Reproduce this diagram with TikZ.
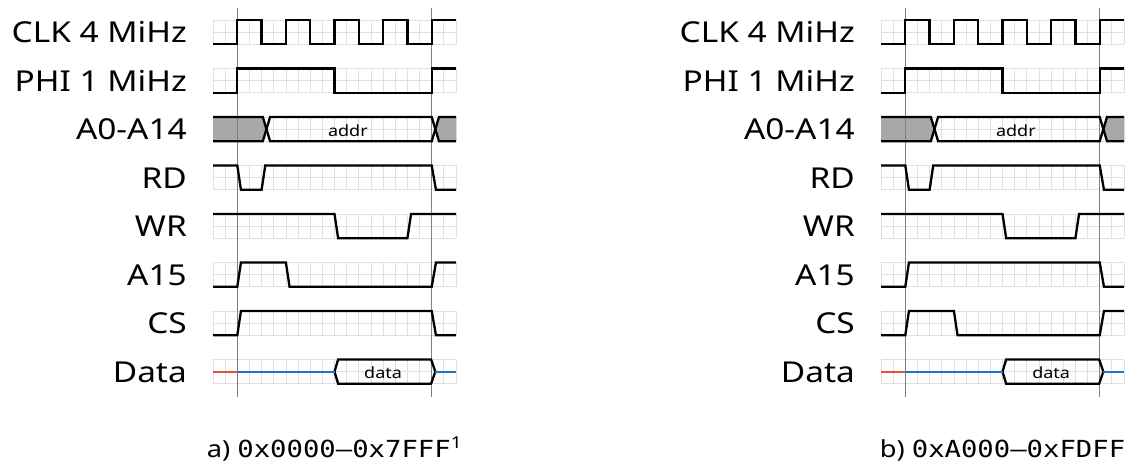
\documentclass[tikz,border=0pt]{standalone}
\usepackage{fontspec}
\usepackage{graphicx}
\setmainfont[FakeStretch=1.16]{Noto Sans}
\newfontfamily\mymono{DejaVu Sans Mono}
\definecolor{dred}{RGB}{238,75,59}
\definecolor{dblue}{RGB}{28,116,208}
\newcommand\monotxt[1]{\scalebox{1.16}[1]{\mymono #1}}
\tikzset{
  gridln/.style={draw=black!12, line width=0.8pt},
  guide/.style={draw=black!50, line width=0.9pt},
  sig/.style={draw=black, line width=2.3pt, line join=miter},
  busfill/.style={fill=black!34},
  lbl/.style={anchor=base east, inner sep=0pt, font=\fontsize{28.8}{30}\selectfont},
  smalltxt/.style={anchor=base, inner sep=0pt, font=\fontsize{15.5}{17}\selectfont},
  capt/.style={anchor=base, inner sep=0pt, font=\fontsize{23.5}{25}\selectfont},
  redline/.style={draw=dred, line width=2pt},
  blueline/.style={draw=dblue, line width=2pt},
}
% #1 x offset, #2 prefix, #3 A15 path, #4 CS path, #5 caption
\newcommand\drawtiming[5]{%
\begin{scope}[shift={(#1,20)}, x=12.15pt, y=-12.125pt]
  % grid
  \foreach \r in {0,...,7}{
    \foreach \c in {0,...,20} \draw[gridln] (\c,{4*\r}) -- (\c,{4*\r+2});
    \foreach \k in {0,1,2} \draw[gridln] (0,{4*\r+\k}) -- (20,{4*\r+\k});
  }
  % bus fills
  \fill[busfill] (0,8) -- (4.1,8) -- (4.4,9) -- (4.1,10) -- (0,10) -- cycle;
  \fill[busfill] (20,8) -- (18.6,8) -- (18.3,9) -- (18.6,10) -- (20,10) -- cycle;
  % guides
  \draw[guide] (2,-1) -- (2,31.1);
  \draw[guide] (18,-1) -- (18,31.1);
  % labels
  \node[lbl] (#2clk) at (-2.14,1.86) {CLK 4 MiHz};
  \node[lbl] (#2phi) at (-2.14,5.86) {PHI 1 MiHz};
  \node[lbl] (#2addr) at (-2.14,9.86) {A0-A14};
  \node[lbl] (#2rd) at (-2.14,13.86) {RD};
  \node[lbl] (#2wr) at (-2.14,17.86) {WR};
  \node[lbl] (#2afif) at (-2.14,21.86) {A15};
  \node[lbl] (#2cs) at (-2.14,25.86) {CS};
  \node[lbl] (#2data) at (-2.14,29.86) {Data};
  % CLK
  \draw[sig] (0,2) -- (2,2) -- (2,0) -- (4,0) -- (4,2) -- (6,2) -- (6,0) -- (8,0) -- (8,2) -- (10,2) -- (10,0) -- (12,0) -- (12,2) -- (14,2) -- (14,0) -- (16,0) -- (16,2) -- (18,2) -- (18,0) -- (20,0);
  % PHI
  \draw[sig] (0,6) -- (2,6) -- (2,4) -- (10,4) -- (10,6) -- (18,6) -- (18,4) -- (20,4);
  % address bus
  \draw[sig] (0,8) -- (4.1,8) -- (4.7,10) -- (18,10) -- (18.6,8) -- (20,8);
  \draw[sig] (0,10) -- (4.1,10) -- (4.7,8) -- (18,8) -- (18.6,10) -- (20,10);
  \node[smalltxt] (#2addrtxt) at (11.1,9.6) {addr};
  % RD
  \draw[sig] (0,12) -- (2,12) -- (2.3,14) -- (4,14) -- (4.3,12) -- (18,12) -- (18.35,14) -- (20,14);
  % WR
  \draw[sig] (0,16) -- (10,16) -- (10.3,18) -- (16,18) -- (16.3,16) -- (20,16);
  % A15
  \draw[sig] #3;
  % CS
  \draw[sig] #4;
  % Data
  \draw[sig] (10,29) -- (10.3,28) -- (17.95,28) -- (18.3,29) -- (17.95,30) -- (10.3,30) -- cycle;
  \draw[redline] (0,29) -- (2,29);
  \draw[blueline] (2,29) -- (10,29);
  \draw[blueline] (18.3,29) -- (20,29);
  \node[smalltxt] (#2datatxt) at (14,29.6) {data};
  % caption
  \node[capt] (#2cap) at (10,36.05) {#5};
\end{scope}}
\begin{document}
\begin{tikzpicture}[x=1pt, y=-1pt]
  \useasboundingbox (0,0) rectangle (1134,470);
  \fill[white] (0,0) rectangle (1134,470);
  \drawtiming{213}{L}%
    {(0,22) -- (2,22) -- (2.3,20) -- (6,20) -- (6.3,22) -- (18,22) -- (18.35,20) -- (20,20)}%
    {(0,26) -- (2,26) -- (2.3,24) -- (18,24) -- (18.35,26) -- (20,26)}%
    {a) \monotxt{0x0000–0x7FFF}\textsuperscript{1}}
  \drawtiming{881}{R}%
    {(0,22) -- (2,22) -- (2.3,20) -- (18,20) -- (18.35,22) -- (20,22)}%
    {(0,26) -- (2,26) -- (2.3,24) -- (6,24) -- (6.3,26) -- (18,26) -- (18.35,24) -- (20,24)}%
    {b) \monotxt{0xA000–0xFDFF}}
\end{tikzpicture}
\end{document}
